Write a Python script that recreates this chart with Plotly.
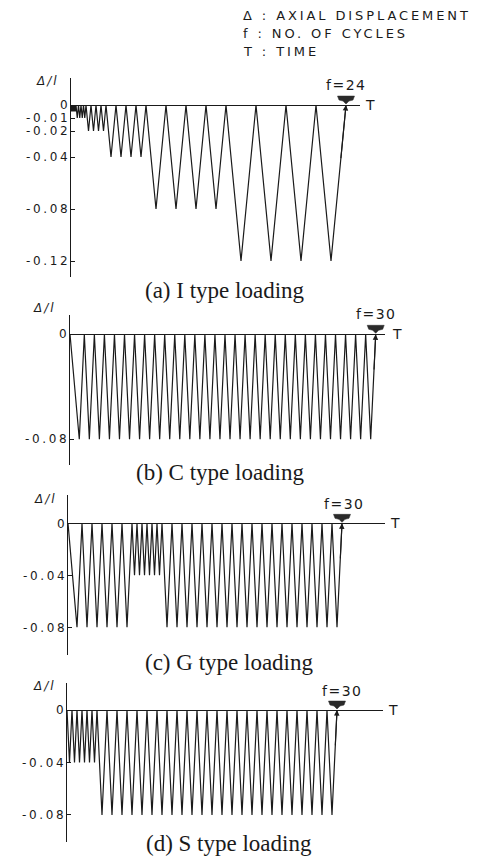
import plotly.graph_objects as go

W, H = 481, 859

# ---------------- data: displacement amplitude (Δ/l) of every cycle ----------------
I_amps = [0.005, 0.005, 0.005, 0.005,
          0.01, 0.01, 0.01, 0.01,
          0.02, 0.02, 0.02, 0.02,
          0.04, 0.04, 0.04, 0.04,
          0.08, 0.08, 0.08, 0.08,
          0.12, 0.12, 0.12, 0.12]
C_amps = [0.08] * 30
G_amps = [0.08] * 6 + [0.04] * 6 + [0.08] * 18
S_amps = [0.04] * 6 + [0.08] * 24

I_ticks = [0, -0.01, -0.02, -0.04, -0.08, -0.12]
I_ticklabels = ["0", "-0.01", "-0.02", "-0.04", "-0.08", "-0.12"]
C_ticks = [0, -0.08]
C_ticklabels = ["0", "-0.08"]
GS_ticks = [0, -0.04, -0.08]
GS_ticklabels = ["0", "-0.04", "-0.08"]

cycle_labels = ["f=24", "f=30", "f=30", "f=30"]
captions = ["(a) I type loading", "(b) C type loading",
            "(c) G type loading", "(d) S type loading"]
first_delay = [0.0, 0.034, 0.032, 0.0]   # slower first loading ramp

legend_lines = ["Δ : AXIAL DISPLACEMENT", "f : NO. OF CYCLES", "T : TIME"]


def wave(amps, delay):
    """triangular strain-controlled history: time per cycle proportional to amplitude"""
    t, y, cur = [0.0], [0.0], 0.0
    for i, a in enumerate(amps):
        cur += a / 2 + (delay if i == 0 else 0.0)
        t.append(cur); y.append(-a)
        cur += a / 2
        t.append(cur); y.append(0.0)
    return t, y


# ---------------- layout geometry (pixels) ----------------
panels = [
    dict(amps=I_amps, ticks=I_ticks, labels=I_ticklabels,
         x0=71, x1=360, y0=78, y1=277, xr=[0, 1.156], yr=[-0.1323, 0.0208]),
    dict(amps=C_amps, ticks=C_ticks, labels=C_ticklabels,
         x0=70, x1=385, y0=315, y1=465, xr=[0, 2.508], yr=[-0.0996, 0.0147]),
    dict(amps=G_amps, ticks=GS_ticks, labels=GS_ticklabels,
         x0=68, x1=385, y0=495, y1=655, xr=[0, 2.536], yr=[-0.1013, 0.0218]),
    dict(amps=S_amps, ticks=GS_ticks, labels=GS_ticklabels,
         x0=67, x1=383, y0=683, y1=842, xr=[0, 2.528], yr=[-0.1006, 0.0206]),
]
caption_pos = [(225, 290), (220, 472), (229, 662), (229, 843)]
flabel_pos = [(346, 85), (376, 314), (344, 504), (342, 691)]
dl_pos = [(47, 81), (44, 308), (45, 499), (44, 686)]
T_pos = [(370, 105), (397, 334), (395, 523), (393, 710)]

INK = "#1a1a1a"
SANS = "DejaVu Sans"


def px(xp):
    return xp / W


def py(yp):
    return 1 - yp / H


def spaced(s, sp=2.4):
    return '<span style="letter-spacing:%.1fpx">%s</span>' % (sp, s)


def label(xp, yp, text, font, xanchor="center"):
    return dict(x=px(xp), y=py(yp), xref="paper", yref="paper", text=text,
                showarrow=False, xanchor=xanchor, yanchor="middle", font=font)


fig = go.Figure()
layout = dict(width=W, height=H, margin=dict(l=0, r=0, t=0, b=0),
              paper_bgcolor="white", plot_bgcolor="white", showlegend=False)
annotations = []
shapes = []

for k, p in enumerate(panels):
    n = "" if k == 0 else str(k + 1)
    t, y = wave(p["amps"], first_delay[k])
    fig.add_trace(go.Scatter(x=t, y=y, mode="lines", xaxis="x" + n, yaxis="y" + n,
                             line=dict(color=INK, width=1.2), hoverinfo="skip"))
    layout["xaxis" + n] = dict(domain=[px(p["x0"]), px(p["x1"])], range=p["xr"],
                               visible=False, anchor="y" + n)
    layout["yaxis" + n] = dict(domain=[py(p["y1"]), py(p["y0"])], range=p["yr"],
                               anchor="x" + n, showline=True, linecolor=INK, linewidth=1.3,
                               showgrid=False, zeroline=True, zerolinecolor=INK,
                               zerolinewidth=1.3, ticks="inside", ticklen=4,
                               tickcolor=INK, tickwidth=1.2,
                               tickvals=p["ticks"], ticklabelstandoff=-3,
                               ticktext=[spaced(s, 2.7) for s in p["labels"]],
                               tickfont=dict(family=SANS, size=12, color=INK))
    t_end, t_min, a_last = t[-1], t[-2], y[-2]
    frac = 0.35
    # thin arrow head on the last unloading branch
    annotations.append(dict(x=t_end, y=0,
                            ax=t_end - frac * (t_end - t_min), ay=frac * a_last,
                            xref="x" + n, yref="y" + n, axref="x" + n, ayref="y" + n,
                            text="", showarrow=True, arrowhead=2, arrowsize=1,
                            arrowwidth=1.1, arrowcolor=INK, standoff=0))
    # thick downward block arrow marking end of test
    shapes.append(dict(type="path", xref="x" + n, yref="y" + n,
                       xsizemode="pixel", ysizemode="pixel", xanchor=t_end, yanchor=0,
                       path="M -8.5,9 L 8.5,9 L 7,5 L 3,4 L 0,1 L -3,4 L -7,5 Z",
                       fillcolor="#2a2a2a", line=dict(color="#2a2a2a", width=0.5)))
    fx, fy = flabel_pos[k]
    annotations.append(label(fx, fy, spaced(cycle_labels[k], 1.5),
                             dict(family=SANS, size=14, color=INK)))
    tx, ty = T_pos[k]
    annotations.append(label(tx, ty, "T", dict(family=SANS, size=14, color=INK)))
    dx, dy = dl_pos[k]
    annotations.append(label(dx, dy, spaced("<i>Δ/l</i>", 2.0),
                             dict(family=SANS, size=12, color=INK)))
    cx, cy = caption_pos[k]
    annotations.append(label(cx, cy, captions[k],
                             dict(family="Liberation Serif", size=23, color=INK)))

legend_y = [16, 33, 52]
for s, ly in zip(legend_lines, legend_y):
    annotations.append(label(241, ly, spaced(s, 2.9),
                             dict(family=SANS, size=13, color=INK), xanchor="left"))

layout["annotations"] = annotations
layout["shapes"] = shapes
fig.update_layout(**layout)
fig.write_html("out.html", config={"displayModeBar": False},
               post_script="document.body.style.margin='0';document.body.style.overflow='hidden';")
